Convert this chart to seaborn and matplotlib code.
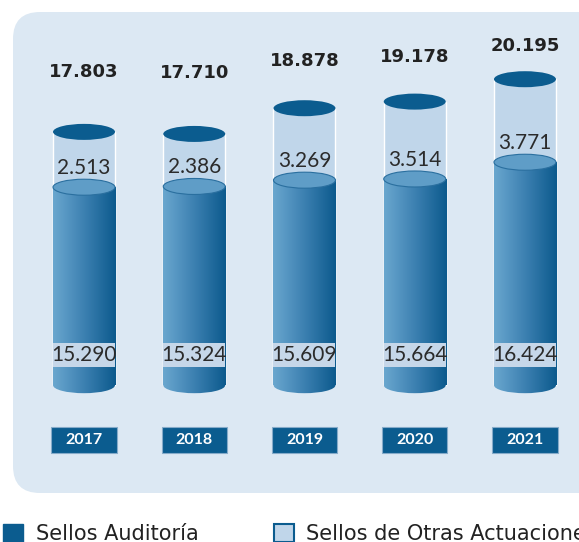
import numpy as np
import pandas as pd
import matplotlib
matplotlib.use("Agg")
import matplotlib.pyplot as plt
import matplotlib.transforms as mtransforms
import seaborn as sns
from matplotlib.patches import Ellipse, Rectangle, FancyBboxPatch, Patch
from matplotlib.colors import LinearSegmentedColormap

# data
years = ["2017", "2018", "2019", "2020", "2021"]
sellos_auditoria = [15290, 15324, 15609, 15664, 16424]
sellos_otras = [2513, 2386, 3269, 3514, 3771]
totales = [17803, 17710, 18878, 19178, 20195]
legend_labels = ["Sellos Auditoría", "Sellos de Otras Actuaciones"]

DARK = "#0b5c8f"
LIGHT = "#c0d6ea"
TOPFACE = "#5f9dc7"
PANEL = "#dce8f3"
BAND = "#c6d7e9"
TXT = "#2b2b2b"

BASE = 6300      # value where the cylinders start (axis is not zero based)
W = 0.5624       # cylinder width in category units
EH = 727         # ellipse height in value units


def fmt(v):
    return f"{v:,}".replace(",", ".")


df = pd.DataFrame({"year": years, "auditoria": sellos_auditoria,
                   "otras": sellos_otras, "total": totales})
df["total_h"] = df["total"] - BASE
df["auditoria_h"] = df["auditoria"] - BASE

sns.set_theme(style="white")
plt.rcParams["font.family"] = ["Lato", "DejaVu Sans"]

fig = plt.figure(figsize=(5.79, 5.42), dpi=100, facecolor="white")
ax = fig.add_axes([0, 0, 1, 1])
ax.set_axis_off()

# background panel
panel = FancyBboxPatch((0.13, 0.49), 6.3, 4.81,
                       boxstyle="round,pad=0,rounding_size=0.27",
                       transform=fig.dpi_scale_trans, facecolor=PANEL,
                       edgecolor="none", zorder=0)
ax.add_patch(panel)

# light (total) and dark (auditoria) cylinders
sns.barplot(data=df, x="year", y="total_h", color=LIGHT, width=W, bottom=BASE,
            saturation=1, errorbar=None, ax=ax, zorder=2)
sns.barplot(data=df, x="year", y="auditoria_h", color="#3c80b1", width=W, bottom=BASE,
            saturation=1, errorbar=None, ax=ax, zorder=3)

cmap = LinearSegmentedColormap.from_list("cyl", ["#6aa7cf", "#3c80b1", "#0c5a8d"])
grad = np.linspace(0, 1, 256).reshape(1, -1)

for i, bar in enumerate(ax.containers[1]):
    x0, w = bar.get_x(), bar.get_width()
    y0, h = bar.get_y(), bar.get_height()
    cx = x0 + w / 2
    im = ax.imshow(grad, extent=(x0, x0 + w, y0 - EH, y0 + h), cmap=cmap,
                   aspect="auto", zorder=3.2, interpolation="bicubic")
    im.set_clip_path(bar)
    bot = Ellipse((cx, y0), w, EH, facecolor="none", edgecolor="none")
    ax.add_patch(bot)
    im2 = ax.imshow(grad, extent=(x0, x0 + w, y0 - EH, y0 + h), cmap=cmap,
                    aspect="auto", zorder=3.2, interpolation="bicubic")
    im2.set_clip_path(bot)
    # top face of dark cylinder
    ax.add_patch(Ellipse((cx, y0 + h), w, EH, facecolor=TOPFACE,
                         edgecolor="#2a6f9f", lw=0.8, zorder=4))

for i, bar in enumerate(ax.containers[0]):
    cx = bar.get_x() + bar.get_width() / 2
    top = bar.get_y() + bar.get_height()
    ax.add_patch(Ellipse((cx, top), bar.get_width(), EH, facecolor=DARK,
                         edgecolor="none", zorder=4))

trans = mtransforms.blended_transform_factory(ax.transData, ax.transAxes)

for i in range(len(years)):
    # total on top
    ax.text(i, 0.5 * totales[i] + 11600, fmt(totales[i]), ha="center", va="center",
            fontsize=13, fontweight="bold", family="DejaVu Sans", color="#222222", zorder=6)
    # otras actuaciones
    ax.annotate(fmt(sellos_otras[i]), (i, sellos_auditoria[i]), xytext=(0, 14),
                textcoords="offset points", ha="center", va="center",
                fontsize=15, color=TXT, zorder=6)
    # auditoria with band
    ax.add_patch(Rectangle((i - W / 2, 0.3229), W, 0.0443, transform=trans,
                           facecolor=BAND, edgecolor="none", zorder=5))
    ax.text(i, 0.345, fmt(sellos_auditoria[i]), transform=trans, ha="center",
            va="center", fontsize=15, color=TXT, zorder=6)
    # year box
    ax.add_patch(Rectangle((i - 0.295, 0.1642), 0.59, 0.048, transform=trans,
                           facecolor=DARK, edgecolor="#86abc9", lw=0.8, zorder=5))
    ax.text(i, 0.1882, years[i], transform=trans, ha="center", va="center",
            fontsize=11.5, fontweight="bold", color="white", zorder=6)

handles = [Patch(facecolor=DARK, edgecolor=DARK),
           Patch(facecolor=LIGHT, edgecolor=DARK, lw=1.5)]
fig.legend(handles, legend_labels, loc="lower left", bbox_to_anchor=(0.006, -0.004),
           ncol=2, frameon=False, prop={"family": "DejaVu Sans", "size": 15},
           handlelength=0.96, handleheight=0.96, handletextpad=0.6,
           columnspacing=3.6, borderpad=0, borderaxespad=0, labelcolor="#222222")

ax.set_xlim(-0.762, 4.490)
ax.set_ylim(-821, 23792)

fig.savefig("out.png", dpi=100, facecolor="white")
